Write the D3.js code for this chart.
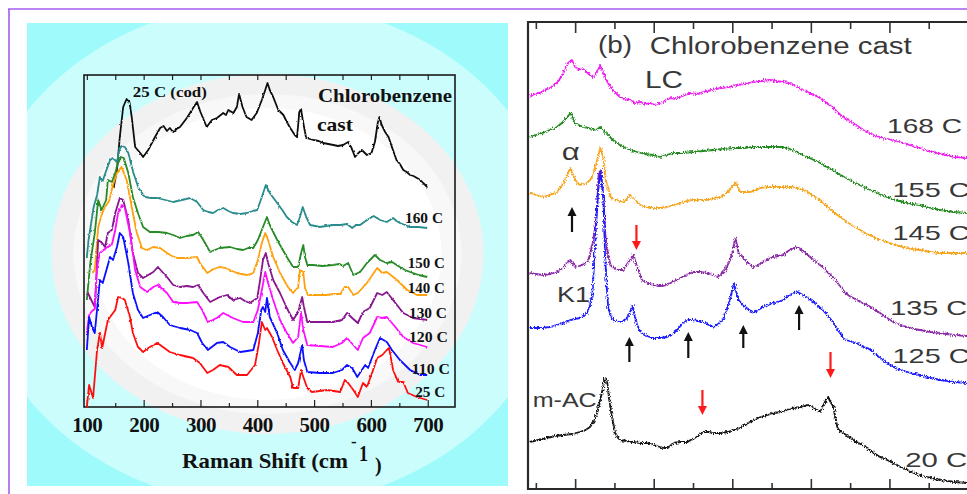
<!DOCTYPE html>
<html>
<head>
<meta charset="utf-8">
<script src="https://cdn.jsdelivr.net/npm/d3@7"></script>
<style>
  html, body { margin: 0; padding: 0; background: #ffffff; overflow: hidden; }
  svg { display: block; }
</style>
</head>
<body>
<svg id="chart" width="967" height="494"></svg>
<script>
// ---------------- Panel (a): Raman spectra, 100-700 cm^-1 ----------------
const ramanTicks = [100, 200, 300, 400, 500, 600, 700];
const ramanMinorTicks = [150, 250, 350, 450, 550, 650];
const seriesNamesA = ["25 C (cod)", "160 C", "150 C", "140 C", "130 C", "120 C", "110 C", "25 C"];

// [Raman shift (cm^-1), intensity (offset, a.u.)]
const specCod25 = [[147,219],[153,237],[158,270],[164,300],[170,308],[175,305],[179,290],[185,260],[194,254],[199,250],[208,257],[220,270],[229,279],[235,281],[241,276],[246,279],[252,275],[258,278],[264,280],[276,289],[287,299],[294,305],[300,295],[311,280],[320,287],[329,289],[340,294],[345,292],[349,297],[358,294],[364,300],[368,313],[374,300],[381,290],[390,287],[399,294],[408,307],[414,317],[418,324],[422,317],[428,310],[437,297],[446,292],[452,285],[458,279],[466,272],[470,270],[474,295],[477,298],[480,287],[486,269],[499,267],[508,266],[516,264],[525,263],[534,262],[542,261],[551,262],[560,265],[566,259],[572,250],[578,254],[584,257],[593,252],[601,254],[607,265],[612,284],[615,290],[619,282],[625,275],[631,270],[637,260],[645,247],[651,243],[657,237],[663,235],[669,232],[675,231],[681,229],[687,227],[692,224],[699,220]];
const spec160 = [[100,150],[103,167],[112,200],[118,212],[123,230],[128,226],[132,233],[141,247],[146,249],[153,245],[157,257],[161,261],[167,260],[173,254],[182,234],[191,219],[202,210],[213,209],[224,209],[238,207],[252,205],[267,207],[282,209],[294,205],[305,197],[314,195],[322,194],[331,197],[340,199],[349,196],[357,194],[370,193],[382,194],[392,196],[400,197],[408,210],[415,222],[422,214],[435,204],[444,197],[452,190],[461,185],[470,182],[475,190],[480,200],[486,190],[493,182],[502,181],[510,180],[521,181],[533,182],[546,182],[558,183],[567,179],[574,182],[581,182],[593,187],[605,191],[616,187],[622,186],[628,185],[639,189],[645,186],[651,184],[660,182],[669,180],[684,180],[699,179]];
const spec150 = [[100,107],[106,144],[114,174],[120,207],[126,197],[134,207],[137,227],[144,225],[150,234],[155,244],[160,250],[165,249],[173,234],[181,210],[190,194],[199,180],[211,175],[226,175],[241,174],[252,172],[264,169],[276,171],[287,172],[296,175],[305,167],[317,155],[334,159],[352,160],[364,158],[375,157],[384,159],[393,159],[401,167],[410,180],[417,190],[422,182],[435,167],[452,150],[463,140],[472,140],[477,154],[481,162],[484,150],[488,142],[498,142],[515,141],[533,142],[545,143],[551,141],[560,144],[569,132],[581,135],[593,144],[607,152],[616,147],[628,144],[637,145],[651,140],[660,137],[669,135],[684,132],[699,130]];
const spec140 = [[110,134],[114,137],[120,180],[127,194],[132,200],[139,206],[146,222],[153,234],[161,240],[170,227],[179,200],[188,174],[197,159],[205,157],[217,160],[229,159],[241,154],[250,151],[259,149],[276,149],[294,150],[299,144],[312,134],[323,138],[334,140],[344,139],[352,137],[364,134],[372,133],[382,132],[393,134],[401,147],[408,164],[414,174],[419,167],[428,150],[440,134],[454,120],[463,114],[472,120],[475,137],[481,135],[484,119],[489,112],[505,112],[523,112],[534,113],[546,113],[554,120],[560,120],[569,112],[577,114],[593,124],[611,139],[620,134],[628,135],[637,131],[646,127],[655,122],[664,117],[681,112],[699,112]];
const spec130 = [[101,115],[107,108],[114,100],[120,167],[127,164],[132,160],[137,174],[144,177],[150,194],[158,209],[164,207],[173,187],[181,154],[190,134],[199,129],[208,132],[217,135],[225,140],[233,135],[241,130],[252,122],[264,120],[276,121],[287,120],[296,122],[305,114],[317,105],[334,110],[347,112],[357,107],[370,109],[378,106],[387,104],[400,109],[405,127],[410,147],[415,154],[419,144],[428,127],[440,114],[452,99],[463,87],[472,95],[479,110],[482,100],[488,85],[510,85],[533,85],[549,87],[558,94],[567,89],[577,84],[586,95],[598,99],[611,114],[620,112],[628,115],[643,104],[657,94],[674,89],[699,87]];
const spec120 = [[100,74],[104,92],[109,96],[114,98],[118,140],[123,154],[136,160],[144,162],[150,177],[155,194],[162,202],[167,199],[176,174],[185,137],[194,120],[206,115],[217,120],[225,122],[233,118],[241,114],[252,105],[264,104],[276,104],[294,105],[303,97],[313,85],[329,89],[340,94],[357,89],[366,87],[375,85],[393,85],[401,97],[408,117],[414,135],[419,124],[428,107],[440,87],[452,74],[463,64],[472,70],[477,95],[481,77],[488,62],[510,61],[533,60],[549,64],[558,69],[569,62],[577,57],[586,69],[598,74],[611,90],[620,89],[628,90],[643,80],[657,70],[674,64],[699,60]];
const spec110 = [[100,57],[104,90],[109,80],[114,74],[123,127],[128,124],[136,140],[141,150],[146,147],[153,160],[158,174],[164,170],[173,144],[181,114],[190,97],[199,89],[211,92],[224,95],[234,90],[246,82],[264,79],[282,77],[294,74],[303,64],[313,57],[329,64],[340,65],[352,60],[370,55],[382,56],[393,57],[401,74],[407,97],[410,100],[414,95],[417,109],[422,90],[435,74],[445,57],[458,44],[466,37],[472,44],[479,62],[482,47],[488,35],[510,34],[533,34],[549,37],[558,42],[567,39],[576,30],[584,37],[590,42],[595,39],[607,57],[616,69],[628,65],[637,57],[651,47],[669,37],[687,32],[699,32]];
const spec25 = [[100,0],[104,22],[111,9],[118,57],[123,74],[127,59],[137,87],[150,97],[155,110],[162,109],[167,107],[176,90],[181,74],[190,60],[199,55],[211,60],[224,64],[234,60],[246,55],[264,52],[287,49],[299,44],[312,34],[322,37],[334,42],[349,40],[364,32],[382,32],[396,42],[403,64],[408,85],[414,77],[417,79],[426,70],[435,57],[445,44],[458,30],[463,19],[472,19],[477,37],[481,30],[488,19],[496,15],[510,16],[523,17],[534,16],[546,15],[554,27],[560,24],[569,17],[577,10],[586,24],[593,20],[602,34],[611,49],[620,52],[628,57],[632,59],[639,37],[648,25],[657,25],[665,14],[681,10],[699,7]];

// ---------------- Panel (b): Chlorobenzene cast, temperature series ----------------
const shiftMajorTicks = [100, 200, 300, 400, 500];
const shiftMinorTicks = [50, 150, 250, 350, 450, 550];
const seriesNamesB = ["168 C", "155 C", "145 C", "135 C", "125 C", "20 C"];

// [shift (a.u.), intensity (offset, a.u.)]
const b168 = [[42,392],[48,395],[55,396],[62,399],[68,401],[73,404],[78,407],[85,416],[91,426],[96,429],[100,422],[106,419],[110,420],[115,417],[119,414],[123,412],[128,417],[132,424],[136,416],[141,407],[148,399],[153,395],[157,392],[163,390],[170,389],[176,386],[183,387],[189,385],[195,386],[202,384],[208,386],[214,388],[221,391],[228,390],[234,392],[240,394],[246,396],[254,395],[263,397],[274,399],[285,401],[296,402],[306,404],[316,405],[326,407],[337,408],[348,409],[356,408],[365,407],[372,406],[378,404],[387,400],[396,397],[404,394],[412,391],[420,386],[429,381],[435,376],[441,372],[448,369],[454,366],[463,361],[472,357],[480,354],[488,352],[503,349],[518,346],[529,343],[539,341],[550,338],[561,336],[572,334],[582,332],[599,331]];
const b155 = [[42,352],[50,354],[59,356],[68,359],[77,362],[83,366],[87,369],[94,376],[100,366],[105,364],[110,362],[117,361],[123,359],[128,360],[132,362],[138,357],[143,353],[148,349],[155,345],[161,342],[170,339],[179,337],[189,335],[199,334],[208,332],[216,334],[225,336],[238,336],[250,337],[263,338],[276,339],[289,340],[301,341],[314,341],[327,342],[342,342],[357,342],[364,342],[370,341],[380,338],[390,334],[401,330],[412,326],[423,321],[434,316],[444,311],[454,307],[465,303],[476,299],[486,295],[497,292],[507,289],[518,287],[528,285],[539,284],[552,281],[565,279],[582,277],[599,276]];
const b145 = [[42,296],[50,294],[59,292],[68,294],[77,297],[83,303],[87,309],[94,321],[100,309],[106,304],[110,305],[115,306],[119,309],[123,314],[128,329],[132,341],[136,331],[139,309],[145,292],[149,290],[153,289],[157,288],[161,287],[166,290],[170,294],[176,289],[183,284],[191,282],[199,281],[208,281],[217,282],[226,284],[234,286],[242,288],[250,289],[259,289],[268,289],[276,291],[285,292],[291,295],[297,299],[304,307],[310,297],[316,297],[323,297],[330,299],[336,301],[344,302],[352,302],[361,302],[370,302],[377,302],[383,301],[390,299],[396,297],[404,293],[412,289],[420,283],[429,277],[437,272],[446,267],[454,263],[463,259],[471,255],[480,252],[488,249],[497,247],[507,244],[518,242],[528,240],[539,239],[552,237],[565,236],[582,236],[599,236]];
const b135 = [[42,216],[50,215],[59,214],[68,215],[77,217],[84,221],[90,226],[94,229],[100,222],[105,223],[109,224],[112,226],[116,227],[119,235],[123,249],[126,264],[128,282],[130,316],[133,319],[136,289],[139,249],[142,234],[145,224],[149,221],[153,219],[157,219],[161,219],[164,222],[167,226],[171,230],[174,234],[179,222],[185,209],[192,206],[199,204],[208,203],[217,204],[226,208],[234,211],[242,214],[250,217],[259,217],[268,216],[275,214],[281,212],[286,215],[291,219],[296,227],[300,236],[304,251],[308,236],[311,233],[314,231],[320,226],[327,222],[333,224],[339,227],[346,230],[352,232],[358,233],[365,234],[371,238],[378,241],[383,242],[390,238],[396,234],[402,230],[408,226],[415,222],[421,217],[428,212],[434,206],[439,201],[444,196],[449,193],[454,191],[463,187],[472,184],[480,180],[488,176],[497,171],[505,167],[514,164],[523,162],[531,160],[539,159],[552,157],[565,156],[582,154],[599,153]];
const b125 = [[42,161],[50,161],[59,161],[68,162],[77,164],[85,166],[94,169],[100,170],[106,171],[111,173],[115,176],[119,184],[122,196],[125,239],[127,268],[129,296],[132,317],[134,306],[136,289],[138,236],[140,205],[142,182],[145,174],[148,169],[152,168],[157,167],[161,168],[166,171],[170,177],[173,184],[176,172],[179,164],[183,157],[191,153],[199,151],[208,151],[217,152],[224,155],[230,159],[238,167],[244,169],[250,169],[256,168],[263,167],[270,164],[276,162],[282,165],[288,169],[292,178],[297,189],[302,206],[305,197],[308,189],[314,184],[320,180],[327,176],[333,179],[339,182],[346,184],[352,186],[358,187],[365,189],[371,193],[378,196],[383,197],[390,194],[396,191],[402,188],[408,184],[415,179],[421,174],[428,167],[434,159],[439,154],[444,149],[449,148],[454,147],[460,145],[467,142],[472,141],[476,139],[482,135],[488,131],[497,126],[505,122],[514,119],[523,117],[531,115],[539,114],[552,111],[565,109],[582,107],[599,106]];
const b20 = [[42,47],[53,49],[64,51],[75,53],[85,54],[96,55],[106,57],[113,59],[119,62],[124,68],[128,76],[131,86],[134,96],[136,104],[138,112],[141,106],[143,92],[146,76],[149,64],[151,56],[154,52],[157,49],[165,48],[174,47],[183,46],[192,46],[200,44],[208,42],[213,41],[217,41],[221,43],[225,46],[234,47],[243,47],[249,50],[255,52],[259,55],[263,57],[270,57],[276,56],[285,56],[294,57],[302,59],[310,61],[318,65],[327,69],[336,72],[345,74],[353,76],[361,77],[370,79],[378,81],[387,82],[396,84],[400,83],[403,81],[408,79],[412,77],[415,82],[418,87],[420,90],[422,92],[425,87],[429,82],[431,72],[434,61],[437,58],[441,56],[447,53],[454,49],[463,45],[472,41],[480,36],[488,32],[497,29],[505,26],[514,22],[523,19],[531,16],[539,14],[552,11],[565,9],[582,7],[599,6]];

// peak markers: [shift, tail intensity, tip intensity]
const markersUp = [[96,257,282],[169,127,152],[244,131,157],[314,141,164],[385,159,184]];
const markersDown = [[178,264,239],[262,99,74],[425,137,111]];

// ---------------- drawing ----------------
const svg = d3.select("#chart");
const defs = svg.append("defs");

// frame of the whole figure
svg.append("line").attr("x1", 8).attr("x2", 967).attr("y1", 9).attr("y2", 9)
  .attr("stroke", "#a45cf0").attr("stroke-width", 1.6);
svg.append("line").attr("x1", 9).attr("x2", 9).attr("y1", 9).attr("y2", 494)
  .attr("stroke", "#a45cf0").attr("stroke-width", 1.6);

// slight jitter texture for the spectra strokes
const fa = defs.append("filter").attr("id", "jitterA")
  .attr("filterUnits", "userSpaceOnUse").attr("x", 60).attr("y", 60).attr("width", 420).attr("height", 370);
fa.append("feTurbulence").attr("type", "fractalNoise").attr("baseFrequency", "0.45 0.3")
  .attr("numOctaves", 1).attr("seed", 4).attr("result", "n");
fa.append("feDisplacementMap").attr("in", "SourceGraphic").attr("in2", "n")
  .attr("scale", 2.5).attr("xChannelSelector", "R").attr("yChannelSelector", "G");

const fb = defs.append("filter").attr("id", "jitterB")
  .attr("filterUnits", "userSpaceOnUse").attr("x", 520).attr("y", 20).attr("width", 460).attr("height", 474);
fb.append("feTurbulence").attr("type", "fractalNoise").attr("baseFrequency", "0.9 0.5")
  .attr("numOctaves", 1).attr("seed", 7).attr("result", "n");
fb.append("feDisplacementMap").attr("in", "SourceGraphic").attr("in2", "n")
  .attr("scale", 5).attr("xChannelSelector", "R").attr("yChannelSelector", "G").attr("result", "d");
fb.append("feGaussianBlur").attr("in", "d").attr("stdDeviation", 0.4);

// ---- panel (a) background: concentric tinted ellipses ----
const gA = svg.append("g");
const bgClip = defs.append("clipPath").attr("id", "bgA");
bgClip.append("rect").attr("x", 27).attr("y", 23).attr("width", 481).attr("height", 463);
const bg = gA.append("g").attr("clip-path", "url(#bgA)");
bg.append("rect").attr("x", 27).attr("y", 23).attr("width", 481).attr("height", 463).attr("fill", "#9ffbfb");
[[292, 252, "#cbfdfd"], [216, 180, "#f1f1f1"], [194, 160, "#f8f8f8"], [174, 146, "#ffffff"]]
  .forEach(([rx, ry, c]) => bg.append("ellipse").attr("cx", 267.5).attr("cy", 254)
    .attr("rx", rx).attr("ry", ry).attr("fill", c));

const xA = d3.scaleLinear().domain([95, 748]).range([84, 455]);
const yA = d3.scaleLinear().domain([0, 332]).range([407, 75]);

// axes (ticks point inward)
const serif = "'Liberation Serif', 'Times New Roman', serif";
const axA = gA.append("g").attr("transform", `translate(0,${yA(0)})`)
  .call(d3.axisBottom(xA).tickValues(ramanTicks).tickSize(-7).tickSizeOuter(0).tickPadding(10));
axA.select(".domain").remove();
axA.selectAll("text").attr("font-family", serif).attr("font-weight", "bold")
  .attr("font-size", 21).attr("fill", "#111").attr("letter-spacing", -0.5);
axA.selectAll("line").attr("stroke", "#222").attr("stroke-width", 1.2);
const axAm = gA.append("g").attr("transform", `translate(0,${yA(0)})`)
  .call(d3.axisBottom(xA).tickValues(ramanMinorTicks).tickSize(-4).tickFormat(""));
axAm.select(".domain").remove();
axAm.selectAll("line").attr("stroke", "#222").attr("stroke-width", 1.2);
const axAt = gA.append("g").attr("transform", `translate(0,${yA(332)})`)
  .call(d3.axisTop(xA).tickValues(ramanTicks.concat(ramanMinorTicks)).tickSize(-5).tickFormat(""));
axAt.select(".domain").remove();
axAt.selectAll("line").attr("stroke", "#222").attr("stroke-width", 1.2);

gA.append("rect").attr("x", xA(95)).attr("y", yA(332))
  .attr("width", xA(748) - xA(95)).attr("height", yA(0) - yA(332))
  .attr("fill", "none").attr("stroke", "#1a1a1a").attr("stroke-width", 1.6);

const lineA = d3.line().x(d => xA(d[0])).y(d => yA(d[1]));
const specA = [specCod25, spec160, spec150, spec140, spec130, spec120, spec110, spec25];
const colorsA = ["#111111", "#2a8c8c", "#268a26", "#ffa010", "#87168f", "#ff10ff", "#0a10ff", "#ff1010"];
const linesA = gA.append("g").attr("filter", "url(#jitterA)");
specA.forEach((s, i) => linesA.append("path").datum(s).attr("d", lineA)
  .attr("fill", "none").attr("stroke", colorsA[i]).attr("stroke-width", 1.8)
  .attr("stroke-linejoin", "round"));

// labels of panel (a): [text, shift, intensity, fontSize, width]
const labelsA = [
  [seriesNamesA[0], 181, 310, 15, 74],
  ["Chlorobenzene", 507, 305, 19, 134],
  ["cast", 505, 276, 19, 36],
  [seriesNamesA[1], 660, 184, 15, 38],
  [seriesNamesA[2], 665, 139, 15, 37],
  [seriesNamesA[3], 665, 114, 15, 37],
  [seriesNamesA[4], 667, 89, 15, 38],
  [seriesNamesA[5], 667, 65, 15, 39],
  [seriesNamesA[6], 672, 33, 15, 38],
  [seriesNamesA[7], 678, 10, 15, 30]
];
labelsA.forEach(([t, x, y, fs, w]) => gA.append("text").attr("x", xA(x)).attr("y", yA(y))
  .attr("font-family", serif).attr("font-weight", "bold").attr("font-size", fs)
  .attr("fill", "#111").attr("textLength", w).attr("lengthAdjust", "spacingAndGlyphs").text(t));

// axis title with superscript
const xt = gA.append("g").attr("font-family", serif).attr("font-weight", "bold").attr("fill", "#111");
xt.append("text").attr("x", 182).attr("y", 468).attr("font-size", 21)
  .attr("textLength", 166).attr("lengthAdjust", "spacingAndGlyphs").text("Raman Shift (cm");
xt.append("text").attr("x", 351).attr("y", 447).attr("font-size", 17).text("-");
xt.append("text").attr("x", 359).attr("y", 461).attr("font-size", 24)
  .attr("textLength", 9).attr("lengthAdjust", "spacingAndGlyphs").text("1");
xt.append("text").attr("x", 375).attr("y", 472).attr("font-size", 20).text(")");

// ---- panel (b) ----
const gB = svg.append("g");
const xB = d3.scaleLinear().domain([40, 600]).range([528, 968]);
const yB = d3.scaleLinear().domain([0, 467]).range([489, 22]);

const tickStyle = sel => { sel.select(".domain").remove(); sel.selectAll("line").attr("stroke", "#333").attr("stroke-width", 1.6); };
gB.append("g").attr("transform", `translate(0,${yB(0)})`)
  .call(d3.axisBottom(xB).tickValues(shiftMajorTicks).tickSize(-10).tickFormat("")).call(tickStyle);
gB.append("g").attr("transform", `translate(0,${yB(0)})`)
  .call(d3.axisBottom(xB).tickValues(shiftMinorTicks).tickSize(-6).tickFormat("")).call(tickStyle);
gB.append("g").attr("transform", `translate(0,${yB(467)})`)
  .call(d3.axisTop(xB).tickValues(shiftMajorTicks).tickSize(-11).tickFormat("")).call(tickStyle);
gB.append("g").attr("transform", `translate(0,${yB(467)})`)
  .call(d3.axisTop(xB).tickValues(shiftMinorTicks).tickSize(-7).tickFormat("")).call(tickStyle);

gB.append("path")
  .attr("d", `M${xB(600) + 5},${yB(467)} H${xB(40)} V${yB(0)} H${xB(600) + 5}`)
  .attr("fill", "none").attr("stroke", "#2a2a2a").attr("stroke-width", 2.2);

const lineB = d3.line().x(d => xB(d[0])).y(d => yB(d[1]));
const specB = [b168, b155, b145, b135, b125, b20];
const colorsB = ["#f21cf2", "#21891f", "#f7a51c", "#8a2aa6", "#1c1cff", "#161616"];
const linesB = gB.append("g").attr("filter", "url(#jitterB)");
specB.forEach((s, i) => linesB.append("path").datum(s).attr("d", lineB)
  .attr("fill", "none").attr("stroke", colorsB[i]).attr("stroke-width", 1.8)
  .attr("stroke-linejoin", "round"));

// peak markers
function arrow(g, d, color) {
  const [x, v0, v1] = d;
  const X = xB(x), Y0 = yB(v0), Y1 = yB(v1);
  const dir = Y1 < Y0 ? -1 : 1;
  g.append("line").attr("x1", X).attr("x2", X).attr("y1", Y0).attr("y2", Y1 - dir * 6)
    .attr("stroke", color).attr("stroke-width", 2.2);
  g.append("path").attr("d", `M${X - 4.5},${Y1 - dir * 9} L${X},${Y1} L${X + 4.5},${Y1 - dir * 9} Z`)
    .attr("fill", color);
}
const marks = gB.append("g");
markersUp.forEach(d => arrow(marks, d, "#111"));
markersDown.forEach(d => arrow(marks, d, "#ff1a1a"));

// labels of panel (b): [text, shift, intensity, fontSize, width]
const sans = "'Liberation Sans', Arial, sans-serif";
const labelsB = [
  ["(b)", 129, 436, 23, 34],
  ["Chlorobenzene cast", 195, 435, 23, 262],
  ["LC", 189, 401, 23, 38],
  [seriesNamesB[0], 497, 356, 21, 75],
  [seriesNamesB[1], 504, 292, 21, 77],
  [seriesNamesB[2], 504, 249, 21, 77],
  [seriesNamesB[3], 501, 174, 21, 77],
  [seriesNamesB[4], 504, 126, 21, 77],
  [seriesNamesB[5], 520, 22, 21, 62],
  ["\u03b1", 83, 329, 24, 18],
  ["K1", 77, 187, 22, 33],
  ["m-AC", 46, 82, 21, 64]
];
labelsB.forEach(([t, x, y, fs, w]) => gB.append("text").attr("x", xB(x)).attr("y", yB(y))
  .attr("font-family", sans).attr("font-size", fs).attr("fill", "#383838")
  .attr("textLength", w).attr("lengthAdjust", "spacingAndGlyphs").text(t));
</script>
</body>
</html>
